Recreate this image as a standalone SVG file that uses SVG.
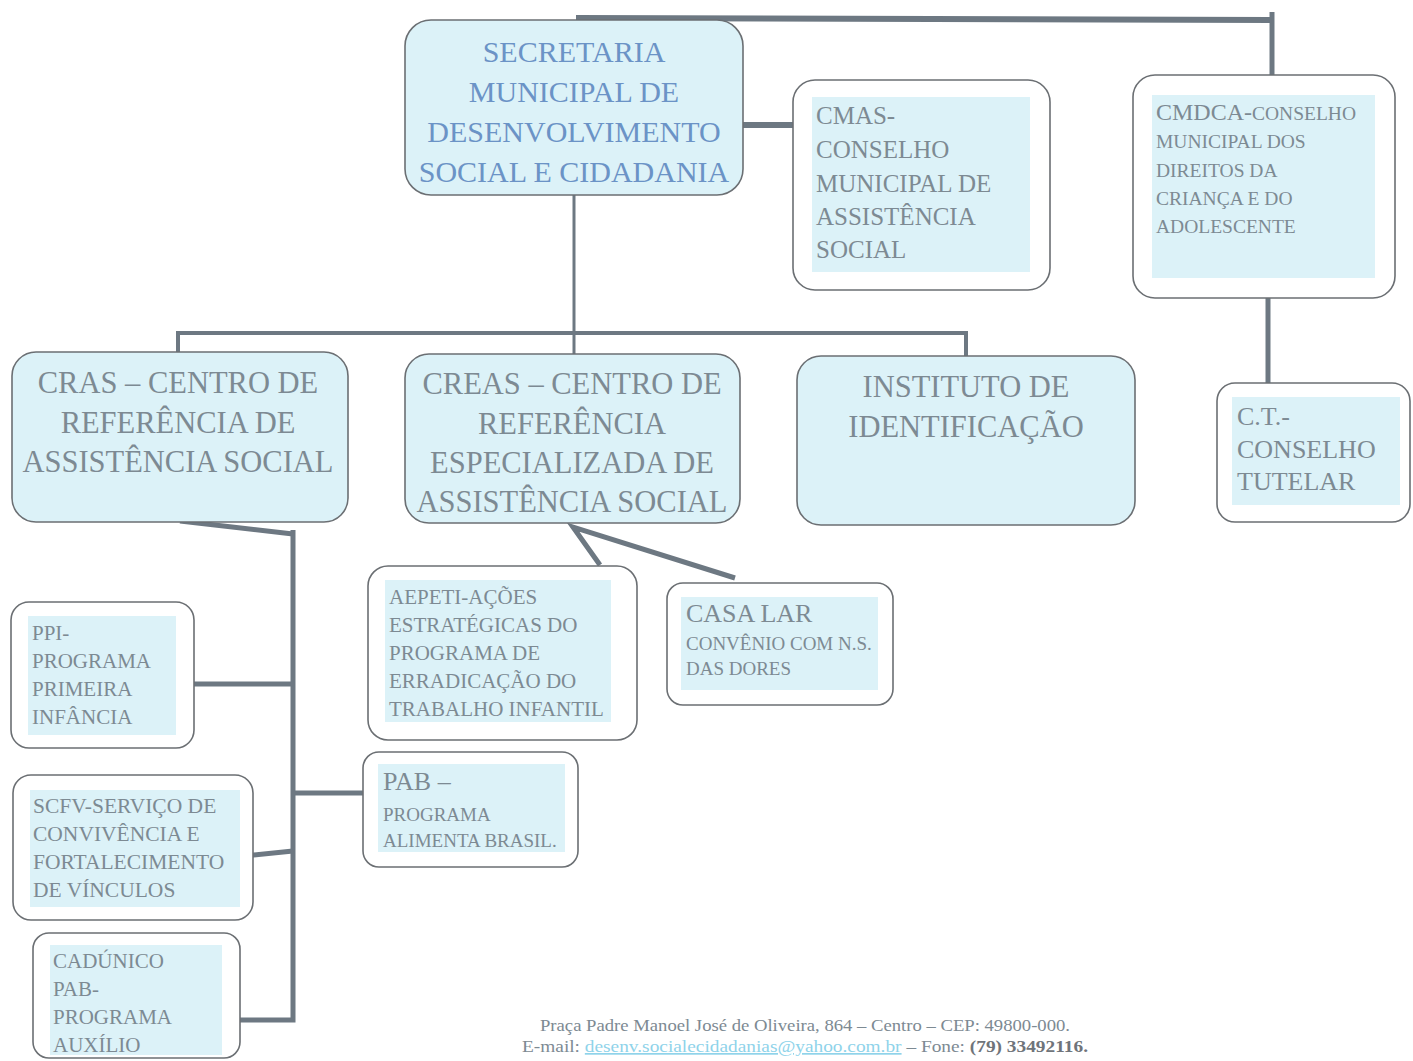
<svg xmlns="http://www.w3.org/2000/svg" width="1413" height="1061" viewBox="0 0 1413 1061">
<style>
.box{fill:#ffffff;stroke:#6b6f73;stroke-width:1.6}
.cbox{fill:#dcf2f8;stroke:#6b6f73;stroke-width:1.6}
.hl{fill:#dcf2f8}
.t{font-family:"Liberation Serif","Times New Roman",serif;fill:#7d8a93}
.tb{font-family:"Liberation Serif","Times New Roman",serif;fill:#6b93c6}
.c{text-anchor:middle}
.ln{stroke:#6d7882;fill:none;stroke-linecap:butt}
</style>
<rect width="1413" height="1061" fill="#ffffff"/>
<g id="connectors">
<path class="ln" d="M576 18 L1272 20" stroke-width="6"/>
<path class="ln" d="M1272 12 L1272 75" stroke-width="5"/>
<path class="ln" d="M743 125 L793 125" stroke-width="6"/>
<path class="ln" d="M574 195 L574 355" stroke-width="3"/>
<path class="ln" d="M178 352 L178 333 L966 333 L966 356" stroke-width="4"/>
<path class="ln" d="M1268 298 L1268 383" stroke-width="5"/>
<path class="ln" d="M180 521 L293 534" stroke-width="5"/>
<path class="ln" d="M293 530 L293 1020 L240 1020" stroke-width="5"/>
<path class="ln" d="M194 684 L293 684" stroke-width="5"/>
<path class="ln" d="M293 793 L363 793" stroke-width="5"/>
<path class="ln" d="M245 856 L293 851" stroke-width="5"/>
<path class="ln" d="M600 565 L573 527 L735 578" stroke-width="5" stroke-linejoin="miter"/>
</g>
<g id="secretaria">
<rect class="cbox" x="405" y="20" width="338" height="175" rx="26"/>
<text class="tb c" font-size="30" x="574" y="62">SECRETARIA</text>
<text class="tb c" font-size="30" x="574" y="102">MUNICIPAL DE</text>
<text class="tb c" font-size="30" x="574" y="142">DESENVOLVIMENTO</text>
<text class="tb c" font-size="30" x="574" y="182">SOCIAL E CIDADANIA</text>
</g>
<g id="cmas">
<rect class="box" x="793" y="80" width="257" height="210" rx="22"/>
<rect class="hl" x="812" y="97" width="218" height="175"/>
<text class="t" font-size="25" x="816" y="124">CMAS-</text>
<text class="t" font-size="25" x="816" y="158">CONSELHO</text>
<text class="t" font-size="25" x="816" y="192">MUNICIPAL DE</text>
<text class="t" font-size="25" x="816" y="225">ASSISTÊNCIA</text>
<text class="t" font-size="25" x="816" y="258">SOCIAL</text>
</g>
<g id="cmdca">
<rect class="box" x="1133" y="75" width="262" height="223" rx="22"/>
<rect class="hl" x="1152" y="95" width="223" height="183"/>
<text class="t" x="1156" y="120"><tspan font-size="24">CMDCA-</tspan><tspan font-size="19.5">CONSELHO</tspan></text>
<text class="t" font-size="19.5" x="1156" y="148">MUNICIPAL DOS</text>
<text class="t" font-size="19.5" x="1156" y="177">DIREITOS DA</text>
<text class="t" font-size="19.5" x="1156" y="205">CRIANÇA E DO</text>
<text class="t" font-size="19.5" x="1156" y="233">ADOLESCENTE</text>
</g>
<g id="cras">
<rect class="cbox" x="12" y="352" width="336" height="170" rx="24"/>
<text class="t c" font-size="30.5" x="178" y="393">CRAS – CENTRO DE</text>
<text class="t c" font-size="30.5" x="178" y="433">REFERÊNCIA DE</text>
<text class="t c" font-size="30.5" x="178" y="472">ASSISTÊNCIA SOCIAL</text>
</g>
<g id="creas">
<rect class="cbox" x="405" y="354" width="335" height="169" rx="24"/>
<text class="t c" font-size="30.5" x="572" y="394">CREAS – CENTRO DE</text>
<text class="t c" font-size="30.5" x="572" y="434">REFERÊNCIA</text>
<text class="t c" font-size="30.5" x="572" y="473">ESPECIALIZADA DE</text>
<text class="t c" font-size="30.5" x="572" y="512">ASSISTÊNCIA SOCIAL</text>
</g>
<g id="instituto">
<rect class="cbox" x="797" y="356" width="338" height="169" rx="24"/>
<text class="t c" font-size="30.5" x="966" y="397">INSTITUTO DE</text>
<text class="t c" font-size="30.5" x="966" y="437">IDENTIFICAÇÃO</text>
</g>
<g id="ct">
<rect class="box" x="1217" y="383" width="193" height="139" rx="18"/>
<rect class="hl" x="1232" y="397" width="168" height="108"/>
<text class="t" font-size="26" x="1237" y="425">C.T.-</text>
<text class="t" font-size="26" x="1237" y="458">CONSELHO</text>
<text class="t" font-size="26" x="1237" y="490">TUTELAR</text>
</g>
<g id="ppi">
<rect class="box" x="11" y="602" width="183" height="146" rx="18"/>
<rect class="hl" x="28" y="616" width="148" height="119"/>
<text class="t" font-size="21" x="32" y="640">PPI-</text>
<text class="t" font-size="21" x="32" y="668">PROGRAMA</text>
<text class="t" font-size="21" x="32" y="696">PRIMEIRA</text>
<text class="t" font-size="21" x="32" y="724">INFÂNCIA</text>
</g>
<g id="scfv">
<rect class="box" x="13" y="775" width="240" height="145" rx="18"/>
<rect class="hl" x="30" y="790" width="210" height="117"/>
<text class="t" font-size="21.5" x="33" y="813">SCFV-SERVIÇO DE</text>
<text class="t" font-size="21.5" x="33" y="841">CONVIVÊNCIA E</text>
<text class="t" font-size="21.5" x="33" y="869">FORTALECIMENTO</text>
<text class="t" font-size="21.5" x="33" y="897">DE VÍNCULOS</text>
</g>
<g id="cadunico">
<rect class="box" x="33" y="933" width="207" height="125" rx="16"/>
<rect class="hl" x="50" y="945" width="172" height="110"/>
<text class="t" font-size="21" x="53" y="968">CADÚNICO</text>
<text class="t" font-size="21" x="53" y="996">PAB-</text>
<text class="t" font-size="21" x="53" y="1024">PROGRAMA</text>
<text class="t" font-size="21" x="53" y="1052">AUXÍLIO</text>
</g>
<g id="aepeti">
<rect class="box" x="368" y="566" width="269" height="174" rx="20"/>
<rect class="hl" x="385" y="580" width="226" height="142"/>
<text class="t" font-size="21" x="389" y="604">AEPETI-AÇÕES</text>
<text class="t" font-size="21" x="389" y="632">ESTRATÉGICAS DO</text>
<text class="t" font-size="21" x="389" y="660">PROGRAMA DE</text>
<text class="t" font-size="21" x="389" y="688">ERRADICAÇÃO DO</text>
<text class="t" font-size="21" x="389" y="716">TRABALHO INFANTIL</text>
</g>
<g id="casalar">
<rect class="box" x="667" y="583" width="226" height="122" rx="16"/>
<rect class="hl" x="681" y="597" width="197" height="93"/>
<text class="t" font-size="26" x="686" y="622">CASA LAR</text>
<text class="t" font-size="19" x="686" y="650">CONVÊNIO COM N.S.</text>
<text class="t" font-size="19" x="686" y="675">DAS DORES</text>
</g>
<g id="pab">
<rect class="box" x="363" y="752" width="215" height="115" rx="16"/>
<rect class="hl" x="378" y="764" width="187" height="88"/>
<text class="t" font-size="26" x="383" y="790">PAB –</text>
<text class="t" font-size="19" x="383" y="821">PROGRAMA</text>
<text class="t" font-size="19" x="383" y="847">ALIMENTA BRASIL.</text>
</g>
<g id="footer">
<text class="t" font-size="17" x="540" y="1031" fill="#7a7f86" textLength="530" lengthAdjust="spacingAndGlyphs">Praça Padre Manoel José de Oliveira, 864 – Centro – CEP: 49800-000.</text>
<text class="t" font-size="17" x="522" y="1052" fill="#7a7f86" textLength="566" lengthAdjust="spacingAndGlyphs">E-mail: <tspan fill="#8fd3ea" text-decoration="underline">desenv.socialecidadanias@yahoo.com.br</tspan> – Fone: <tspan font-weight="bold" fill="#6f747a">(79) 33492116.</tspan></text>
</g>
</svg>
